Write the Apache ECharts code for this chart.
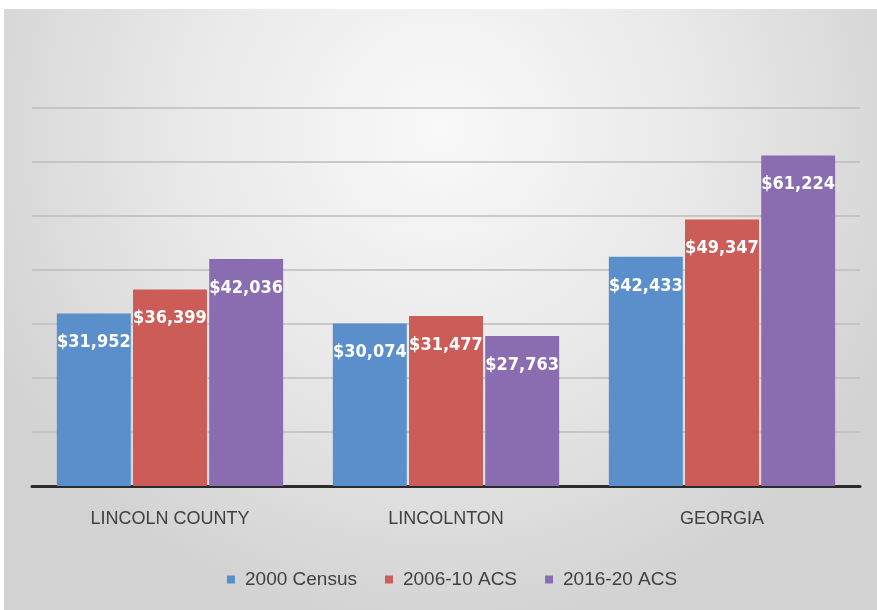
<!DOCTYPE html>
<html>
<head>
<meta charset="utf-8">
<script src="https://cdn.jsdelivr.net/npm/echarts@6/dist/echarts.min.js"></script>
<style>
  html, body { margin: 0; padding: 0; background: #fff; }
  #chart { width: 877px; height: 610px; }
</style>
</head>
<body>
<div id="chart"></div>
<script>
// Median household income by place
const places = ['LINCOLN COUNTY', 'LINCOLNTON', 'GEORGIA'];
const census2000 = [31952, 30074, 42433];
const acs2006_10 = [36399, 31477, 49347];
const acs2016_20 = [42036, 27763, 61224];
const seriesNames = ['2000 Census', '2006-10 ACS', '2016-20 ACS'];
const seriesColors = ['#5b8fcb', '#cc5c57', '#8a6db1'];

const chart = echarts.init(document.getElementById('chart'));

function money(v) {
    return '$' + v.toLocaleString('en-US');
}

const labelStyle = {
    show: true,
    position: 'insideTop',
    distance: 20,
    color: '#fff',
    fontFamily: '"DejaVu Sans Condensed", "DejaVu Sans", sans-serif',
    fontWeight: 'bold',
    fontSize: 18,
    formatter: p => money(p.value)
};

const seriesData = [census2000, acs2006_10, acs2016_20];

chart.setOption({
    animation: false,
    graphic: [{
        type: 'rect',
        left: 4,
        top: 9,
        shape: { width: 873, height: 601 },
        style: {
            fill: {
                type: 'radial', x: 0.5, y: 0.2, r: 0.85,
                colorStops: [
                    { offset: 0, color: '#f9f9f9' },
                    { offset: 0.5, color: '#e9e9e9' },
                    { offset: 1, color: '#d2d2d2' }
                ]
            }
        },
        z: -10
    }],
    legend: {
        left: 222,
        top: 565,
        itemWidth: 8,
        itemHeight: 8,
        itemGap: 28,
        icon: 'rect',
        textStyle: {
            color: '#404040',
            fontSize: 19,
            fontFamily: '"Liberation Sans", Arial, sans-serif',
            padding: [0, 0, 0, 5]
        },
        data: seriesNames
    },
    grid: { left: 32, right: 17, top: 108, bottom: 124 },
    xAxis: {
        type: 'category',
        data: places,
        axisTick: { show: false },
        axisLine: { lineStyle: { color: '#2b2b2b', width: 3 } },
        axisLabel: {
            color: '#404040',
            fontSize: 18,
            fontFamily: '"Liberation Sans", Arial, sans-serif',
            margin: 24
        }
    },
    yAxis: {
        type: 'value',
        min: 0,
        max: 70000,
        interval: 10000,
        axisLabel: { show: false },
        axisLine: { show: false },
        axisTick: { show: false },
        splitLine: { lineStyle: { color: '#bdbdbd', width: 1.5 } }
    },
    series: seriesNames.map((name, i) => ({
        name: name,
        type: 'bar',
        data: seriesData[i],
        barGap: '3%',
        barCategoryGap: '18%',
        itemStyle: { color: seriesColors[i] },
        label: labelStyle
    }))
});
</script>
</body>
</html>
